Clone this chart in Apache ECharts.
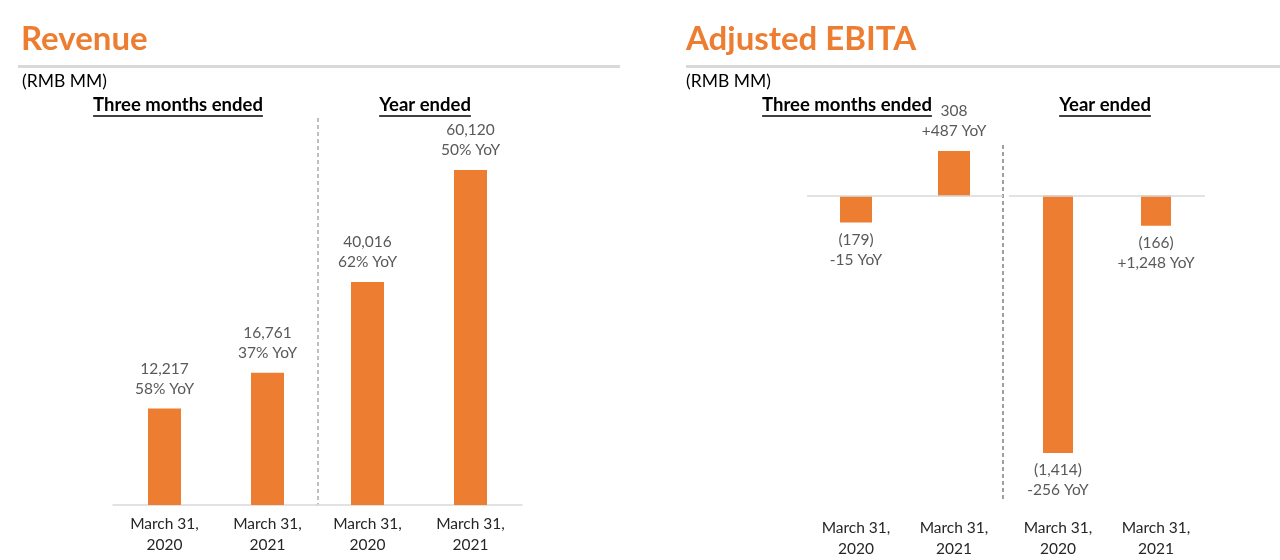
<!DOCTYPE html>
<html>
<head>
<meta charset="utf-8">
<script src="https://cdn.jsdelivr.net/npm/echarts@6/dist/echarts.min.js"></script>
<style>
html, body { margin: 0; padding: 0; background: #fff; }
#main { width: 1280px; height: 560px; }
</style>
</head>
<body>
<div id="main"></div>
<script>
var categories = ['March 31,\n2020', 'March 31,\n2021'];
var revenueQuarter = [12217, 16761];
var revenueQuarterYoY = ['58% YoY', '37% YoY'];
var revenueYear = [40016, 60120];
var revenueYearYoY = ['62% YoY', '50% YoY'];
var ebitaQuarter = [-179, 308];
var ebitaQuarterYoY = ['-15 YoY', '+487 YoY'];
var ebitaYear = [-1414, -166];
var ebitaYearYoY = ['-256 YoY', '+1,248 YoY'];

var ORANGE = '#ED7D31';
var FONT = 'Lato, "Open Sans", sans-serif';

var myChart = echarts.init(document.getElementById('main'));

function fmt(v) {
    var s = Math.abs(v).toLocaleString('en-US');
    return v < 0 ? '(' + s + ')' : s;
}

// 测量文字宽度，用于下划线
var ctx = document.createElement('canvas').getContext('2d');
function textWidth(txt, font) {
    ctx.font = font;
    return ctx.measureText(txt).width;
}

function barSeries(idx, values, yoy, width) {
    return {
        type: 'bar',
        xAxisIndex: idx,
        yAxisIndex: idx,
        barWidth: width,
        itemStyle: { color: ORANGE },
        data: values.map(function (v) {
            return { value: v, label: { position: v < 0 ? 'bottom' : 'top', distance: v < 0 ? 7 : 10 } };
        }),
        label: {
            show: true,
            color: '#595959',
            fontSize: 15.5,
            lineHeight: 20,
            fontFamily: FONT,
            formatter: function (p) { return fmt(p.value) + '\n' + yoy[p.dataIndex]; }
        },
        markLine: idx >= 2 ? {
            silent: true,
            symbol: 'none',
            label: { show: false },
            lineStyle: { color: '#d9d9d9', type: 'solid', width: 1.5 },
            data: [{ yAxis: 0 }]
        } : undefined
    };
}

function xAxis(idx, right) {
    return {
        type: 'category',
        gridIndex: idx,
        data: categories,
        axisTick: { show: false },
        axisLine: { show: !right, onZero: !right, lineStyle: { color: '#d9d9d9', width: 1.5 } },
        axisLabel: { color: '#262626', fontSize: 15.5, lineHeight: 21, fontFamily: FONT, margin: right ? 12 : 8 }
    };
}

function yAxis(idx, min, max) {
    return { type: 'value', gridIndex: idx, min: min, max: max, show: false, splitLine: { show: false } };
}

function headerGroup(txt, cx, y) {
    var font = 'bold 18.5px ' + FONT;
    var w = textWidth(txt, font);
    return [
        { type: 'text', x: cx, y: y, style: { text: txt, font: font, fill: '#000', textAlign: 'center' } },
        { type: 'line', shape: { x1: cx - w / 2, y1: y + 20, x2: cx + w / 2, y2: y + 20 }, style: { stroke: '#000', lineWidth: 1.3 } }
    ];
}

var graphics = [
    { type: 'text', x: 21, y: 23, style: { text: 'Revenue', font: 'bold 33px ' + FONT, fill: ORANGE } },
    { type: 'text', x: 686, y: 23, style: { text: 'Adjusted EBITA', font: 'bold 33px ' + FONT, fill: ORANGE } },
    { type: 'rect', shape: { x: 18, y: 65, width: 602, height: 3 }, style: { fill: '#d9d9d9' } },
    { type: 'rect', shape: { x: 686, y: 65, width: 594, height: 3 }, style: { fill: '#d9d9d9' } },
    { type: 'text', x: 22, y: 72, style: { text: '(RMB MM)', font: '17.5px ' + FONT, fill: '#000' } },
    { type: 'text', x: 686, y: 72, style: { text: '(RMB MM)', font: '17.5px ' + FONT, fill: '#000' } },
    { type: 'line', shape: { x1: 318, y1: 118, x2: 318, y2: 505 }, style: { stroke: '#7f7f7f', lineWidth: 1, lineDash: [4, 3] } },
    { type: 'line', shape: { x1: 1003, y1: 145, x2: 1003, y2: 500 }, style: { stroke: '#404040', lineWidth: 1, lineDash: [4, 3] } }
].concat(headerGroup('Three months ended', 178, 96))
 .concat(headerGroup('Year ended', 425, 96))
 .concat(headerGroup('Three months ended', 847, 96))
 .concat(headerGroup('Year ended', 1105, 96));

var option = {
    animation: false,
    backgroundColor: '#fff',
    graphic: graphics,
    grid: [
        { left: 113, width: 206, top: 130, bottom: 55 },
        { left: 316, width: 206, top: 130, bottom: 55 },
        { left: 807, width: 196, top: 130, bottom: 55 },
        { left: 1009, width: 196, top: 130, bottom: 55 }
    ],
    xAxis: [xAxis(0, false), xAxis(1, false), xAxis(2, true), xAxis(3, true)],
    yAxis: [
        yAxis(0, 0, 47500),
        yAxis(1, 0, 67300),
        yAxis(2, -2100, 450),
        yAxis(3, -1700, 360)
    ],
    series: [
        barSeries(0, revenueQuarter, revenueQuarterYoY, 33),
        barSeries(1, revenueYear, revenueYearYoY, 33),
        barSeries(2, ebitaQuarter, ebitaQuarterYoY, 32),
        barSeries(3, ebitaYear, ebitaYearYoY, 30)
    ]
};

myChart.setOption(option);
</script>
</body>
</html>
